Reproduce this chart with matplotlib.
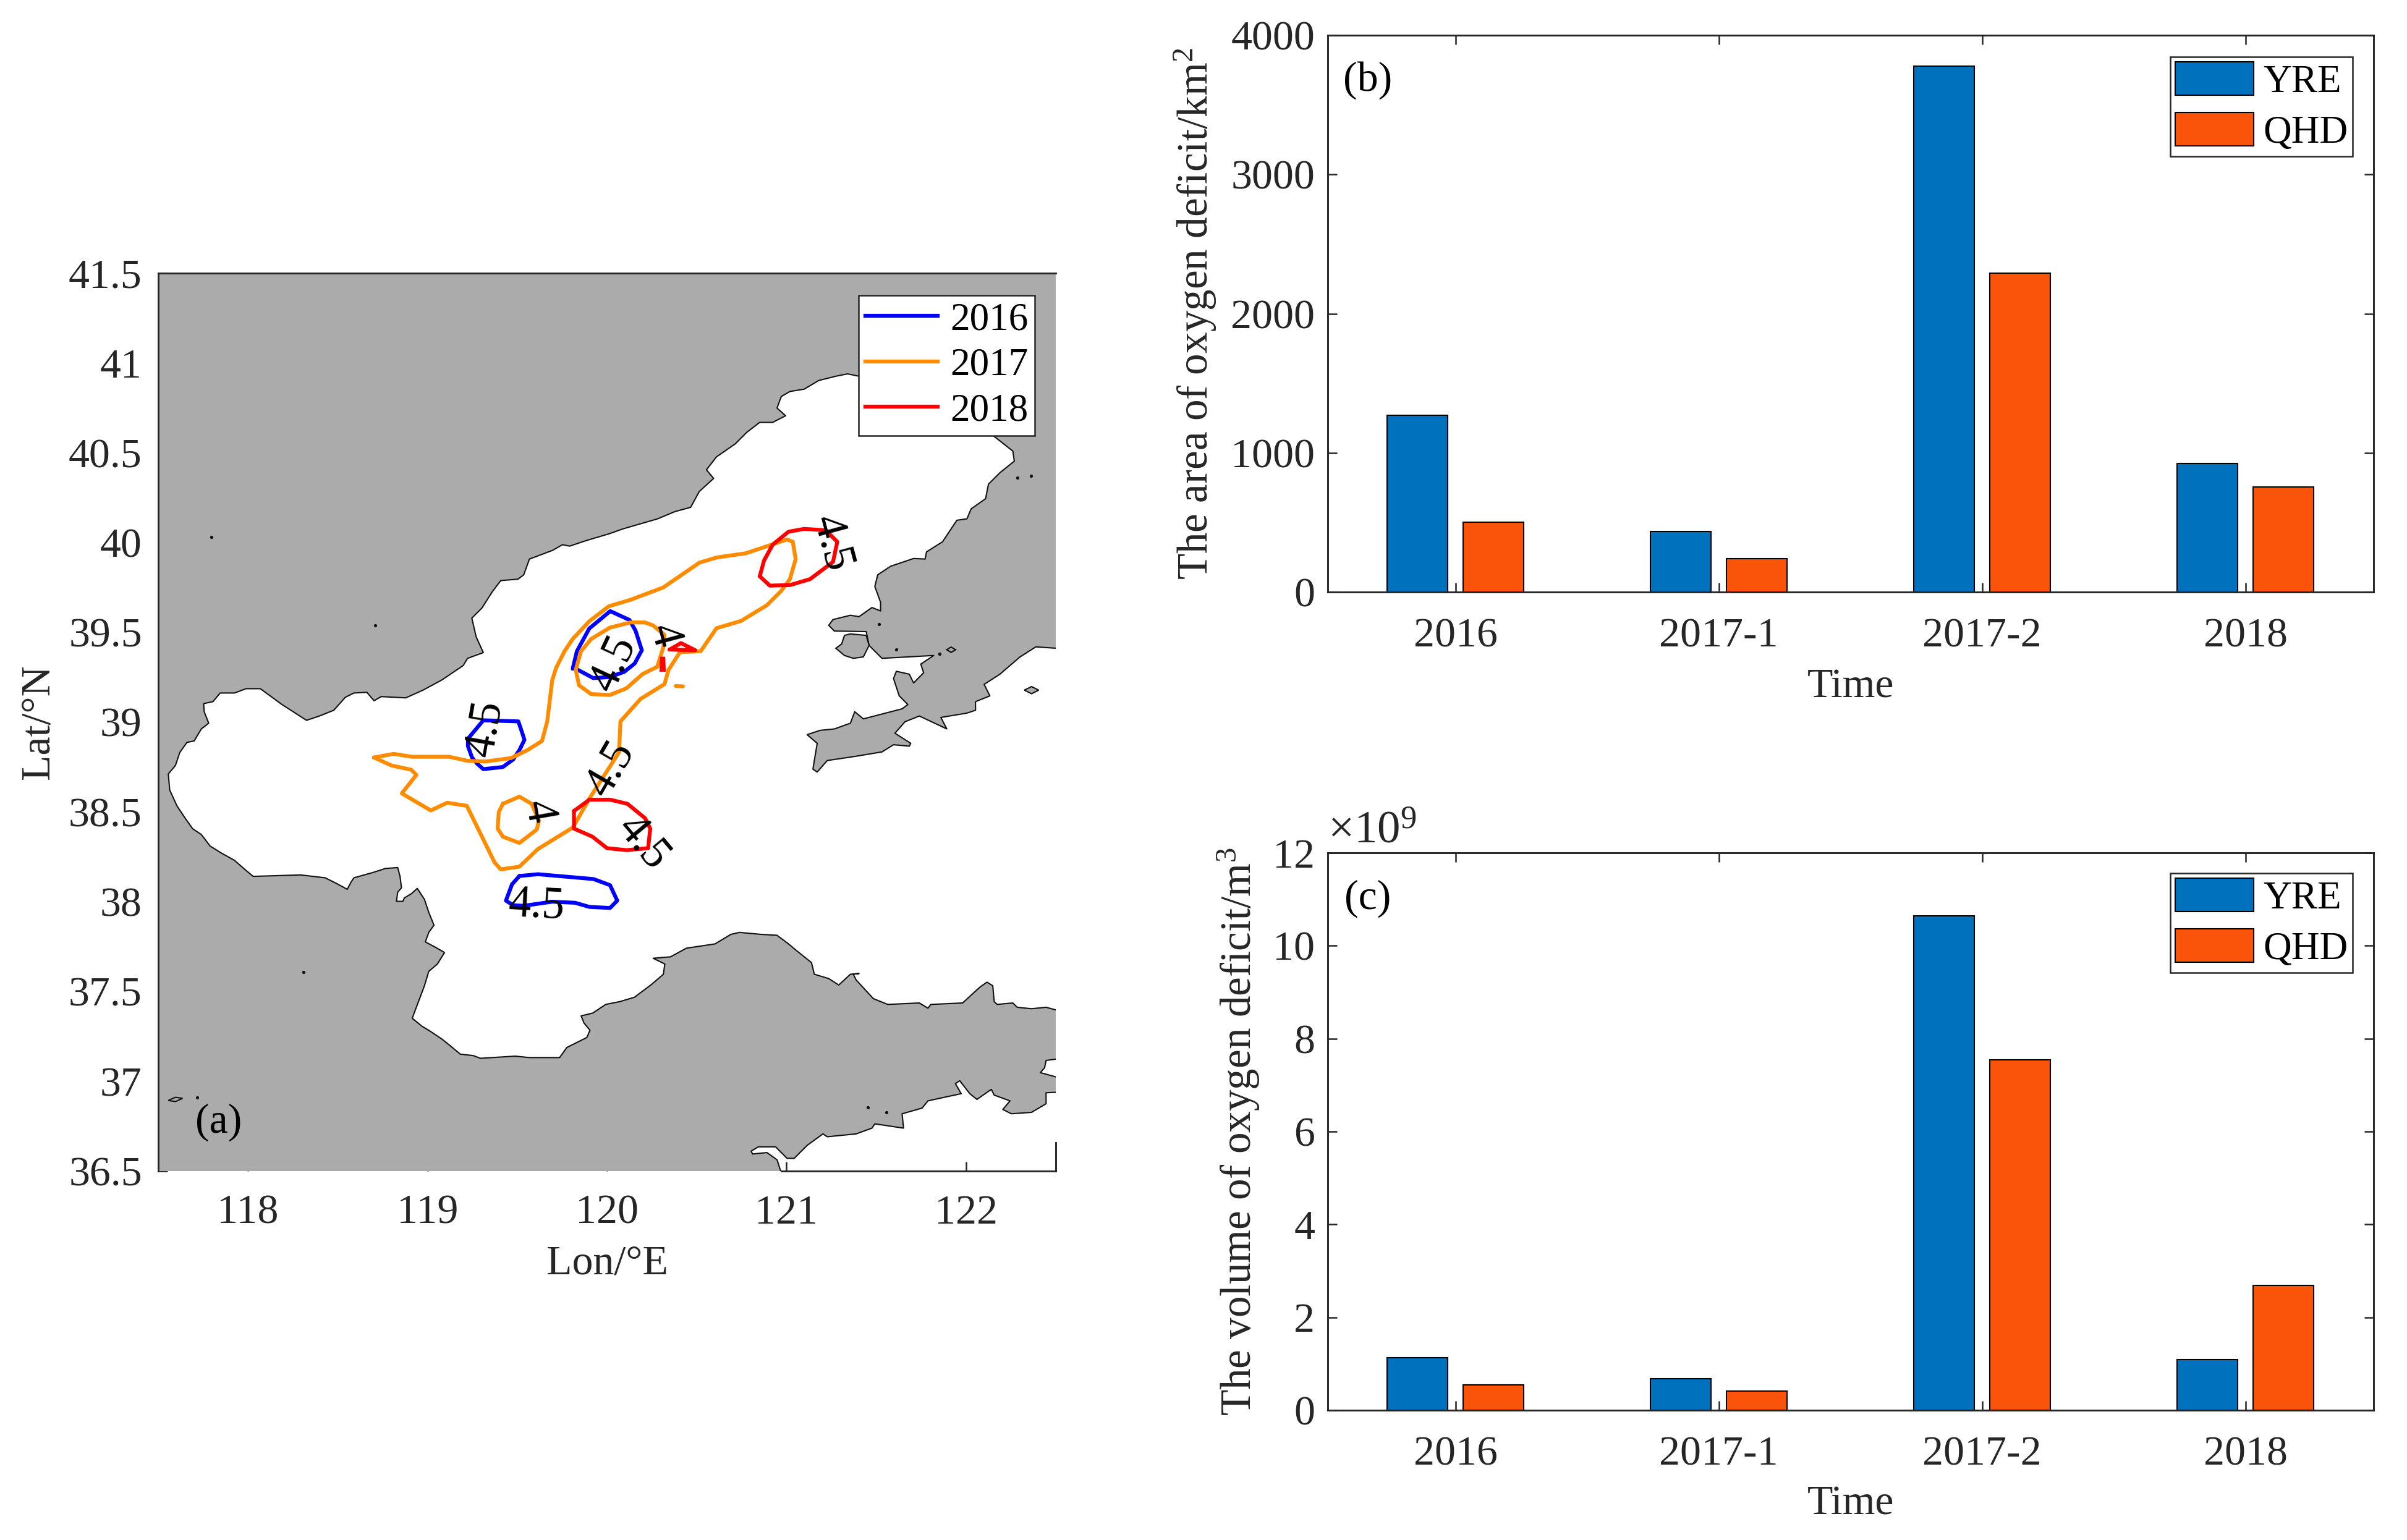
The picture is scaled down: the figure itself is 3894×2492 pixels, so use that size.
import numpy as np
import matplotlib
matplotlib.use("Agg")
import matplotlib.pyplot as plt
from matplotlib.path import Path
from matplotlib.patches import PathPatch, Polygon
from matplotlib.lines import Line2D

plt.rcParams['font.family'] = ['Liberation Serif', 'DejaVu Serif']
plt.rcParams['mathtext.fontset'] = 'custom'
plt.rcParams['mathtext.rm'] = 'Liberation Serif'
plt.rcParams['mathtext.default'] = 'regular'

# ---- bar data
periods = ['2016', '2017-1', '2017-2', '2018']
area_yre = [1271, 435, 3779, 924]
area_qhd = [500, 238, 2291, 754]
vol_yre = [1.13, 0.68, 10.64, 1.09]
vol_qhd = [0.545, 0.41, 7.54, 2.685]

# ---- coastline (lon, lat)
coast_main = [
 (122.506,37.396),(122.446,37.412),(122.365,37.404),(122.285,37.412),(122.261,37.436),(122.173,37.428),
 (122.157,37.444),(122.149,37.532),(122.117,37.552),(122.077,37.524),(121.981,37.436),(121.804,37.428),
 (121.788,37.407),(121.740,37.436),(121.564,37.428),(121.484,37.460),(121.388,37.564),(121.372,37.596),
 (121.404,37.600),(121.356,37.596),(121.291,37.536),(121.235,37.572),(121.155,37.596),(121.139,37.661),
 (121.059,37.725),(121.011,37.765),(120.947,37.813),(120.859,37.818),(120.738,37.829),(120.690,37.818),
 (120.602,37.765),(120.442,37.741),(120.354,37.693),(120.257,37.685),(120.322,37.653),(120.314,37.596),
 (120.249,37.540),(120.153,37.468),(120.073,37.444),(119.993,37.428),(119.921,37.380),(119.856,37.364),
 (119.872,37.324),(119.905,37.284),(119.888,37.244),(119.776,37.188),(119.736,37.132),(119.568,37.132),
 (119.488,37.140),(119.295,37.128),(119.255,37.143),(119.183,37.151),(119.119,37.204),(119.079,37.236),
 (119.007,37.284),(118.967,37.308),(118.915,37.351),(118.959,37.468),(118.983,37.532),(119.007,37.612),
 (119.055,37.653),(119.095,37.717),(119.039,37.749),(118.988,37.776),(119.007,37.829),(119.036,37.869),
 (119.007,37.941),(118.983,38.013),(118.943,38.074),(118.911,38.045),(118.871,38.021),(118.863,38.002),
 (118.827,38.002),(118.834,38.053),(118.855,38.077),(118.847,38.141),(118.834,38.190),(118.766,38.185),
 (118.694,38.162),(118.590,38.133),(118.574,38.109),(118.553,38.069),(118.494,38.101),(118.430,38.133),
 (118.293,38.149),(118.029,38.141),(117.989,38.174),(117.925,38.230),(117.853,38.270),(117.789,38.310),
 (117.740,38.374),(117.692,38.406),(117.652,38.462),(117.604,38.534),(117.564,38.622),(117.556,38.711),
 (117.596,38.759),(117.620,38.831),(117.660,38.887),(117.700,38.895),(117.740,38.962),(117.781,38.994),
 (117.756,39.058),(117.753,39.103),(117.805,39.114),(117.845,39.162),(117.925,39.162),(117.989,39.186),
 (118.069,39.186),(118.189,39.098),(118.326,39.010),(118.398,39.034),(118.478,39.066),(118.542,39.138),
 (118.590,39.162),(118.662,39.166),(118.702,39.119),(118.742,39.142),(118.879,39.135),(118.975,39.178),
 (119.079,39.234),(119.199,39.315),(119.223,39.355),(119.311,39.387),(119.271,39.475),(119.247,39.579),
 (119.303,39.635),(119.359,39.723),(119.408,39.788),(119.504,39.796),(119.536,39.820),(119.568,39.908),
 (119.696,39.956),(119.752,39.988),(119.792,39.980),(119.888,40.012),(120.013,40.049),(120.089,40.076),
 (120.282,40.132),(120.378,40.172),(120.466,40.196),(120.514,40.284),(120.594,40.357),(120.554,40.405),
 (120.610,40.477),(120.714,40.549),(120.778,40.613),(120.851,40.669),(120.923,40.669),(120.995,40.706),
 (120.947,40.749),(120.971,40.813),(121.019,40.841),(121.099,40.854),(121.179,40.902),(121.275,40.926),
 (121.340,40.939),(121.404,40.926),(121.596,40.950),(121.997,40.773),(122.149,40.597),(122.261,40.509),
 (122.269,40.453),(122.189,40.389),(122.125,40.325),(122.109,40.244),(122.029,40.188),(122.005,40.132),
 (121.949,40.124),(121.869,40.004),(121.780,39.948),(121.772,39.908),(121.708,39.911),(121.580,39.868),
 (121.508,39.820),(121.492,39.755),(121.524,39.667),(121.524,39.619),(121.476,39.638),(121.404,39.587),
 (121.356,39.595),(121.259,39.571),(121.235,39.539),(121.267,39.507),(121.444,39.504),(121.460,39.427),
 (121.532,39.355),(121.820,39.371),(121.748,39.323),(121.764,39.275),(121.708,39.218),(121.684,39.267),
 (121.612,39.283),(121.596,39.243),(121.628,39.146),(121.676,39.098),(121.644,39.074),(121.428,39.018),
 (121.380,39.058),(121.356,38.994),(121.267,38.962),(121.187,38.954),(121.115,38.930),(121.171,38.882),
 (121.147,38.738),(121.171,38.722),(121.227,38.786),(121.388,38.810),(121.532,38.834),(121.596,38.874),
 (121.684,38.866),(121.692,38.882),(121.604,38.938),(121.660,39.002),(121.740,39.034),(121.893,38.962),
 (121.860,39.026),(122.005,39.050),(122.053,39.066),(122.053,39.114),(122.133,39.146),(122.101,39.210),
 (122.189,39.267),(122.301,39.363),(122.389,39.419),(122.506,39.411)]
coast_south = [
 (120.971,36.49),(120.947,36.563),(120.891,36.603),(120.811,36.595),(120.803,36.611),(120.843,36.635),
 (120.939,36.635),(121.003,36.571),(121.043,36.571),(121.115,36.643),(121.203,36.707),(121.227,36.691),
 (121.388,36.707),(121.476,36.739),(121.492,36.763),(121.652,36.739),(121.644,36.819),(121.756,36.851),
 (121.788,36.891),(121.973,36.931),(121.941,36.987),(121.965,37.003),(122.021,36.931),(122.061,36.899),
 (122.141,36.955),(122.157,36.923),(122.245,36.891),(122.205,36.843),(122.253,36.819),(122.365,36.827),
 (122.446,36.875),(122.446,36.936),(122.506,36.939)]
corner_south = [(122.506,36.49)]
coast_notch = [(122.506,37.124),(122.446,37.116),(122.438,37.076),(122.414,37.048),(122.506,37.023)]
island_big = [(121.323,39.483),(121.356,39.491),(121.444,39.483),(121.460,39.427),(121.428,39.363),
              (121.372,39.355),(121.323,39.371),(121.275,39.411),(121.307,39.435)]
island_a = [(121.892,39.403),(121.917,39.418),(121.942,39.403),(121.917,39.388)]
island_b = [(122.325,39.178),(122.365,39.198),(122.405,39.178),(122.365,39.158)]
island_c = [(117.556,36.893),(117.596,36.911),(117.636,36.905),(117.596,36.887)]
islet_lon = [117.795,118.710,118.310,117.716,121.852,121.516,122.285,122.362,121.612,121.556,121.452]
islet_lat = [40.031,39.539,37.608,36.910,39.379,39.547,40.360,40.373,39.406,36.827,36.856]

# ---- contours (lon, lat)
blue_a = [(119.809,39.297),(119.832,39.394),(119.901,39.521),(120.018,39.618),(120.125,39.569),(120.159,39.509),
          (120.194,39.400),(120.154,39.326),(120.096,39.280),(120.016,39.251),(119.924,39.245),(119.838,39.291)]
blue_b = [(119.225,38.907),(119.311,39.010),(119.506,39.004),(119.529,38.936),(119.540,38.901),(119.512,38.844),
          (119.477,38.792),(119.420,38.750),(119.311,38.738),(119.276,38.769),(119.248,38.803),(119.225,38.867),(119.225,38.907)]
blue_c = [(119.512,38.143),(119.615,38.153),(119.925,38.126),(120.017,38.092),(120.057,38.006),(120.017,37.965),
          (119.902,37.971),(119.822,37.994),(119.695,38.000),(119.535,37.977),(119.477,37.980),(119.437,38.006),
          (119.471,38.097),(119.512,38.143)]
orange_main = [(118.702,38.803),(118.811,38.823),(118.915,38.807),(119.121,38.807),(119.225,38.784),(119.328,38.781),
          (119.466,38.800),(119.557,38.844),(119.638,38.895),(119.667,39.004),(119.695,39.234),(119.717,39.303),
          (119.763,39.394),(119.809,39.463),(119.901,39.561),(120.010,39.645),(120.131,39.681),(120.314,39.750),
          (120.515,39.888),(120.613,39.917),(120.773,39.940),(120.911,39.986),(121.003,40.017),(121.035,40.004),
          (121.051,39.908),(121.019,39.796),(120.971,39.731),(120.891,39.651),(120.746,39.563),(120.610,39.523),
          (120.522,39.395),(120.406,39.389),(120.343,39.291),(120.320,39.211),(120.188,39.130),(120.075,39.004),
          (120.067,38.832),(119.902,38.574),(119.810,38.413),(119.615,38.293),(119.512,38.195),(119.408,38.180),
          (119.374,38.218),(119.219,38.534),(119.110,38.551),(119.018,38.508),(118.857,38.603),(118.938,38.706),
          (118.909,38.735),(118.800,38.758),(118.702,38.803)]
orange_ring = [(120.280,39.308),(120.314,39.417),(120.320,39.486),(120.257,39.538),(120.211,39.555),(120.131,39.555),
          (120.016,39.526),(119.912,39.463),(119.855,39.394),(119.826,39.291),(119.844,39.205),(119.912,39.156),
          (120.016,39.151),(120.108,39.188),(120.199,39.268),(120.280,39.308)]
orange_small = [(119.420,38.545),(119.512,38.585),(119.580,38.545),(119.621,38.453),(119.609,38.402),(119.512,38.327),
          (119.420,38.362),(119.391,38.407),(119.397,38.499),(119.420,38.545)]
orange_dot = [(120.383,39.201),(120.423,39.199)]
red_ne = [(120.851,39.812),(120.875,39.900),(120.923,39.988),(121.011,40.060),(121.099,40.076),(121.219,40.068),
          (121.283,40.004),(121.259,39.892),(121.131,39.796),(121.019,39.763),(120.907,39.760),(120.851,39.812)]
red_tri = [(120.349,39.404),(120.412,39.440),(120.492,39.400),(120.349,39.404)]
red_fill = [(120.300,39.360),(120.320,39.360),(120.323,39.285),(120.297,39.285)]
red_s = [(119.816,38.505),(119.902,38.568),(120.017,38.568),(120.114,38.545),(120.212,38.465),(120.241,38.407),
         (120.229,38.298),(120.109,38.287),(120.000,38.298),(119.919,38.362),(119.816,38.407),(119.816,38.505)]
year_labels = ['2016', '2017', '2018']
contour_labels = [('4.5',119.609,37.977,-3),('4.5',119.322,38.964,80),('4.5',120.039,39.326,65),
                  ('4',120.314,39.480,-75),('4',119.615,38.499,-80),('4.5',120.021,38.740,60),
                  ('4.5',121.251,39.996,-75),('4.5',120.200,38.327,-50)]

W, H = 3894, 2492
fig = plt.figure(figsize=(W/300, H/300), dpi=300, facecolor='white')
FS = 16.3
LFS = 15.2
INK = '#262626'
def rect(l, t, r, b):
    return [l/W, 1-b/H, (r-l)/W, (b-t)/H]

# ---- panel (a)
ax = fig.add_axes(rect(256, 442, 1708, 1895))
ax.set_xlim(117.5, 122.5); ax.set_ylim(36.5, 41.5)
ax.set_axisbelow(True)

def cw(pts):
    a = np.array(pts, float)
    x, y = a[:, 0], a[:, 1]
    area = 0.5*np.sum(x*np.roll(y, -1)-np.roll(x, -1)*y)
    return a[::-1] if area > 0 else a

box = np.array([(117.4,36.4),(122.6,36.4),(122.6,41.6),(117.4,41.6)])
rings = [box, cw(coast_main), cw(coast_south+corner_south), cw(coast_notch)]
verts, codes = [], []
for r in rings:
    verts += list(map(tuple, r)) + [tuple(r[0])]
    codes += [Path.MOVETO]+[Path.LINETO]*(len(r)-1)+[Path.CLOSEPOLY]
GRAY = '#ABABAB'
ax.add_patch(PathPatch(Path(verts, codes), fc=GRAY, ec='none', zorder=1))
for seg in (coast_main, coast_south, coast_notch):
    a = np.array(seg)
    ax.plot(a[:, 0], a[:, 1], color='#111111', lw=0.5, zorder=1.2)
for isl in (island_big, island_a, island_b, island_c):
    ax.add_patch(Polygon(isl, closed=True, fc=GRAY, ec='#111111', lw=0.5, zorder=1.3))
ax.scatter(islet_lon, islet_lat, s=1.6, c='#111111', lw=0, zorder=1.3)

LW = 1.5
def line(pts, col):
    a = np.array(pts)
    ax.plot(a[:, 0], a[:, 1], color=col, lw=LW, zorder=3, solid_joinstyle='round', solid_capstyle='round')

BLUE, ORANGE, RED = '#0000FF', '#FF8C00', '#FF0000'
for p in (blue_a, blue_b, blue_c):
    line(p, BLUE)
for p in (orange_main, orange_ring, orange_small, orange_dot):
    line(p, ORANGE)
for p in (red_ne, red_tri, red_s):
    line(p, RED)
ax.add_patch(Polygon(red_fill, closed=True, fc=RED, ec=RED, lw=0.6, zorder=3))
for s, lo, la, rot in contour_labels:
    ax.text(lo, la, s, rotation=rot, rotation_mode='anchor', ha='center', va='center',
            fontsize=17.5, color='black', zorder=4)
ax.text(117.837, 36.771, '(a)', fontsize=FS, ha='center', va='center', color='black', zorder=4)

ax.set_xticks([118, 119, 120, 121, 122])
ax.set_yticks([36.5, 37, 37.5, 38, 38.5, 39, 39.5, 40, 40.5, 41, 41.5])
ax.set_yticklabels(['36.5', '37', '37.5', '38', '38.5', '39', '39.5', '40', '40.5', '41', '41.5'])
ax.tick_params(direction='in', length=3.5, width=0.6, color=INK, labelcolor=INK, labelsize=FS, pad=6.3)
ax.tick_params(axis='x', pad=9)
for s in ax.spines.values():
    s.set_linewidth(0.7); s.set_color(INK); s.set_zorder(2.5)
ax.spines['right'].set_bounds(36.5, 36.66)
ax.spines['bottom'].set_bounds(120.97, 122.5)
ax.set_xlabel('Lon/°E', fontsize=FS, color=INK)
ax.set_ylabel('Lat/°N', fontsize=FS, color=INK)
ax.xaxis.set_label_coords(0.5, -(2045-1895)/1453)
ax.yaxis.set_label_coords((62-256)/1452, 0.5)
ax.xaxis.label.set_va('center'); ax.yaxis.label.set_va('center')
hs = [Line2D([], [], color=c, lw=LW) for c in (BLUE, ORANGE, RED)]
lg = ax.legend(hs, year_labels, loc='upper right', bbox_to_anchor=(0.9766, 0.9752), borderaxespad=0,
               fontsize=LFS, frameon=True, fancybox=False, framealpha=1, edgecolor=INK,
               handlelength=1.85, handletextpad=0.32, labelspacing=0.24, borderpad=0.17)
lg.get_frame().set_linewidth(0.6); lg.set_zorder(5)

# ---- panels (b), (c)
YC, QC = '#0072BD', '#FA530A'
def bars(pos, yre, qhd, ymax, yticks, letter, ylabel, lx, legy, lety, xlaby):
    a = fig.add_axes(pos)
    x = np.arange(1, len(periods)+1)
    a.bar(x-0.145, yre, 0.23, color=YC, edgecolor='black', linewidth=0.5, zorder=3, label='YRE')
    a.bar(x+0.145, qhd, 0.23, color=QC, edgecolor='black', linewidth=0.5, zorder=3, label='QHD')
    a.set_xlim(0.515, 4.487); a.set_ylim(0, ymax)
    a.set_xticks(x); a.set_xticklabels(periods)
    a.set_yticks(yticks)
    a.tick_params(direction='in', length=3.5, width=0.6, color=INK, labelcolor=INK, labelsize=FS,
                  top=True, right=True, pad=5)
    a.tick_params(axis='x', pad=10)
    a.set_axisbelow(False)
    for s in a.spines.values():
        s.set_linewidth(0.7); s.set_color(INK); s.set_zorder(4)
    a.set_xlabel('Time', fontsize=FS, color=INK)
    a.set_ylabel(ylabel, fontsize=16.6, color=INK)
    a.xaxis.set_label_coords(0.5, xlaby)
    a.yaxis.set_label_coords(lx, 0.5)
    a.xaxis.label.set_va('center'); a.yaxis.label.set_va('center')
    a.text(0.038, lety, letter, transform=a.transAxes, fontsize=FS, ha='center', va='center', color='black', zorder=6)
    l = a.legend(loc='upper right', bbox_to_anchor=(0.98, legy), borderaxespad=0, fontsize=LFS, frameon=True,
                 fancybox=False, framealpha=1, edgecolor=INK, handlelength=2.0, handleheight=0.94,
                 handletextpad=0.25, labelspacing=0.31, borderpad=0.12)
    l.get_frame().set_linewidth(0.6); l.set_zorder(7)
    return a

bars(rect(2148, 57, 3840, 958), area_yre, area_qhd, 4000, [0, 1000, 2000, 3000, 4000], '(b)',
     'The area of oxygen deficit/km$^{2}$', -0.1265, 0.961, 0.919, -0.171)
c = bars(rect(2148, 1380, 3840, 2282), vol_yre, vol_qhd, 12, [0, 2, 4, 6, 8, 10, 12], '(c)',
     'The volume of oxygen deficit/m$^{3}$', -0.085, 0.9634, 0.918, -0.168)
c.text(0.0, 1.0, '×10$^{9}$', transform=c.transAxes, fontsize=18, ha='left', va='bottom', color=INK)

fig.savefig('out.png', dpi=300)
